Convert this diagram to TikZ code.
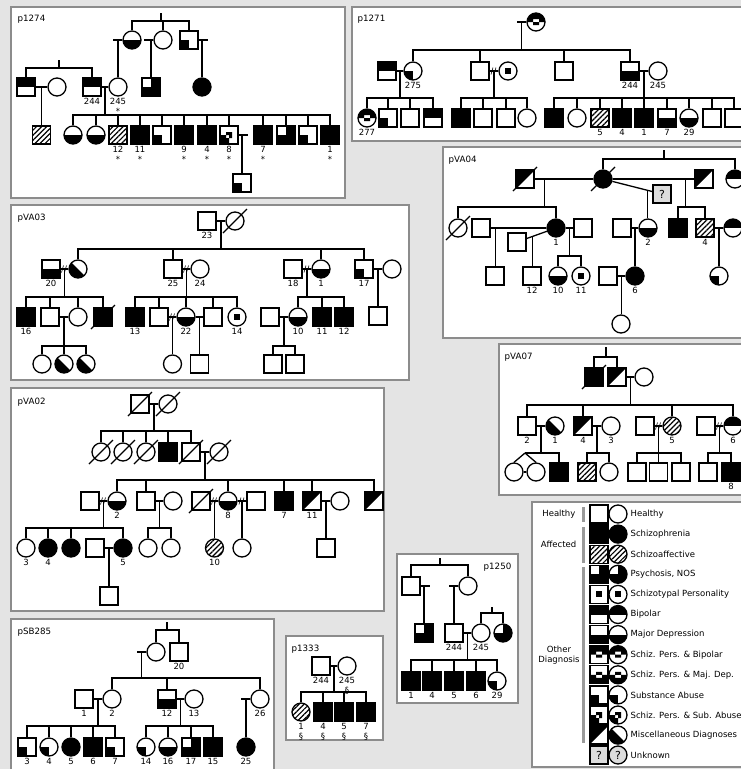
\documentclass[tikz,border=0pt]{standalone}
\usepackage{fontspec}
\setmainfont{DejaVu Sans}
\usetikzlibrary{patterns.meta}

\definecolor{bgcol}{HTML}{E4E4E4}
\definecolor{framecol}{HTML}{8C8C8C}
\definecolor{unkcol}{HTML}{DCDCDC}
\definecolor{barcol}{HTML}{9A9A9A}

% fill helpers
\newcommand{\ppic}[1]{\begin{scope}[shift={(path picture bounding box.center)}]#1\end{scope}}
\newcommand{\deceased}[1]{\draw (#1.center) ++(-12,12) -- ++(24,-24);}
\newcommand{\kids}[3]{\draw (#1) -- ++(0,#2) coordinate (bar);
  \foreach \c in {#3} {\draw (bar) -| (\c.north);}}
\newcommand{\down}[2]{\draw (#1) -- (#1 |- #2.north);}
\newcommand{\divorce}[1]{\draw[line width=.6pt] (#1) ++(-3,3.5) -- ++(2,-7) (#1) ++(0,3.5) -- ++(2,-7);}
\newcommand{\stubw}[2]{\draw (#1.west) -- ++(-9,0); \draw (#2.north) -- (#2 |- #1);}
\newcommand{\stube}[2]{\draw (#1.east) -- ++(9,0); \draw (#2.north) -- (#2 |- #1);}

\begin{document}
\begin{tikzpicture}[x=1pt, y=-1pt, line width=1.3pt,
  person/.style={draw, line width=1.3pt, minimum size=18pt, inner sep=0pt, fill=white, font=\fontsize{11}{11}\selectfont},
  male/.style={person, rectangle},
  female/.style={person, circle},
  hea/.style={},
  aff/.style={fill=black},
  sza/.style={pattern={Lines[angle=45, distance=3.6pt, line width=1.2pt]}},
  psy/.style={fill=black, path picture={\ppic{\fill[white] (-10pt,10pt) rectangle (0pt,0pt);}}},
  stp/.style={path picture={\ppic{\fill[black] (-3pt,-3pt) rectangle (3pt,3pt);}}},
  bip/.style={path picture={\ppic{\fill[black] (-10pt,0pt) rectangle (10pt,10pt);}}},
  mdp/.style={path picture={\ppic{\fill[black] (-10pt,-10pt) rectangle (10pt,0pt);}}},
  spb/.style={path picture={\ppic{\fill[black, even odd rule] (-10pt,0pt) rectangle (10pt,10pt) (-3pt,-3pt) rectangle (3pt,3pt);}}},
  spm/.style={path picture={\ppic{\fill[black, even odd rule] (-10pt,-10pt) rectangle (10pt,0pt) (-3pt,-3pt) rectangle (3pt,3pt);}}},
  sub/.style={path picture={\ppic{\fill[black] (-10pt,-10pt) rectangle (0pt,0pt);}}},
  sps/.style={path picture={\ppic{\fill[black, even odd rule] (-10pt,-10pt) rectangle (0pt,0pt) (-3pt,-3pt) rectangle (3pt,3pt);}}},
  miscm/.style={path picture={\ppic{\fill[black] (-9pt,-9pt) -- (-9pt,9pt) -- (9pt,9pt) -- cycle;}}},
  miscf/.style={path picture={\ppic{\fill[black] (-10pt,10pt) -- (-10pt,-10pt) -- (10pt,-10pt) -- cycle;}}},
  unk/.style={fill=unkcol},
  lab/.style={font=\fontsize{8.5}{9.5}\selectfont, inner sep=1pt, align=center},
  panel/.style={draw=framecol, line width=1.5pt, fill=white},
  title/.style={font=\fontsize{8.7}{10}\selectfont, anchor=north west, inner sep=0pt},
  gbar/.style={draw=barcol, line width=3pt}
]
\useasboundingbox (0,0) rectangle (741,769);
\clip (0,0) rectangle (741,769);
\fill[bgcol] (0,0) rectangle (741,769);

% ---------- p1274 ----------
\draw[panel] (11,7) rectangle (345,198);
\node[title] at (17,14) {p1274};
\coordinate (a0) at (161,13);
\node[female,mdp] (a1) at (132,40) {};
\node[female] (a2) at (163,40) {};
\node[male,sub] (a3) at (189,40) {};
\kids{a0}{8}{a1,a2,a3}
\coordinate (a4) at (59,60);
\node[male,bip] (a5) at (26,87) {};
\node[female] (a7) at (57,87) {};
\node[male,bip,label={[lab]below:244}] (a6) at (92,87) {};
\node[female,label={[lab]below:{245\\*}}] (a8) at (118,87) {};
\node[male,psy] (a9) at (151,87) {};
\node[female,aff] (a10) at (202,87) {};
\kids{a4}{8}{a5,a6}
\stubw{a1}{a8}
\stubw{a2}{a9}
\stube{a3}{a10}
\draw (a5) -- coordinate (m1) (a7);
\node[male,sza] (a11) at (41.5,135) {};
\down{m1}{a11}
\draw (a6) -- coordinate (m2) (a8);
\node[female,mdp] (a12) at (73,135) {};
\node[female,mdp] (a13) at (96,135) {};
\node[male,sza,label={[lab]below:{12\\*}}] (a14) at (118,135) {};
\node[male,aff,label={[lab]below:{11\\*}}] (a15) at (140,135) {};
\node[male,sub] (a16) at (162,135) {};
\node[male,aff,label={[lab]below:{9\\*}}] (a17) at (184,135) {};
\node[male,aff,label={[lab]below:{4\\*}}] (a18) at (207,135) {};
\node[male,sps,label={[lab]below:{8\\*}}] (a19) at (229,135) {};
\node[male,aff,label={[lab]below:{7\\*}}] (a20) at (263,135) {};
\node[male,psy] (a21) at (286,135) {};
\node[male,sub] (a22) at (308,135) {};
\node[male,aff,label={[lab]below:{1\\*}}] (a23) at (330,135) {};
\kids{m2}{28}{a12,a13,a14,a15,a16,a17,a18,a19,a20,a21,a22,a23}
\node[male,sub] (a24) at (242,183) {};
\stube{a19}{a24}

% ---------- p1271 ----------
\draw[panel] (352,7) rectangle (760,141);
\node[title] at (357,14) {p1271};
\node[female,spb] (b1) at (536,22) {};
\node[male,bip] (b2) at (387,71) {};
\node[female,sub,label={[lab]below:275}] (b3) at (413,71) {};
\node[male] (b4) at (480,71) {};
\node[female,stp] (b5) at (508,71) {};
\node[male] (b6) at (564,71) {};
\node[male,mdp,label={[lab]below:244}] (b7) at (630,71) {};
\node[female,label={[lab]below:245}] (b8) at (658,71) {};
\draw (b1.west) -- ++(-9,0);
\path (b1.west) ++(-5,0) coordinate (b0);
\kids{b0}{28}{b3,b4,b6,b7}
\draw (b2) -- coordinate (m3) (b3);
\node[female,spb,label={[lab]below:277}] (b9) at (367,118) {};
\node[male,sub] (b10) at (388,118) {};
\node[male] (b11) at (410,118) {};
\node[male,bip] (b12) at (433,118) {};
\kids{m3}{27}{b9,b10,b11,b12}
\draw (b4) -- coordinate (m4) (b5);
\divorce{m4}
\node[male,aff] (b13) at (461,118) {};
\node[male] (b14) at (483,118) {};
\node[male] (b15) at (506,118) {};
\node[female] (b16) at (527,118) {};
\kids{m4}{27}{b13,b14,b15,b16}
\draw (b7) -- coordinate (m5) (b8);
\node[male,aff] (b17) at (554,118) {};
\node[female] (b18) at (577,118) {};
\node[male,sza,label={[lab]below:5}] (b19) at (600,118) {};
\node[male,aff,label={[lab]below:4}] (b20) at (622,118) {};
\node[male,aff,label={[lab]below:1}] (b21) at (644,118) {};
\node[male,mdp,label={[lab]below:7}] (b22) at (667,118) {};
\node[female,mdp,label={[lab]below:29}] (b23) at (689,118) {};
\node[male] (b24) at (712,118) {};
\node[male] (b25) at (734,118) {};
\kids{m5}{27}{b17,b18,b19,b20,b21,b22,b23,b24,b25}

% ---------- pVA04 ----------
\draw[panel] (443,147) rectangle (760,338);
\node[title] at (448,155) {pVA04};
\coordinate (c0) at (664,150);
\node[male,miscm] (c1) at (525,179) {};
\node[female,aff] (c2) at (603,179) {};
\node[male,miscm] (c3) at (704,179) {};
\node[female,bip] (c4) at (735,179) {};
\node[male,unk] (c5) at (662,194) {?};
\kids{c0}{9}{c2,c4}
\node[female] (c6) at (458,228) {};
\node[male] (c7) at (481,228) {};
\node[female,aff,label={[lab]below:1}] (c8) at (556,228) {};
\node[male] (c9) at (517,242) {};
\node[male] (c10) at (583,228) {};
\node[male] (c14) at (622,228) {};
\node[female,mdp,label={[lab]below:2}] (c11) at (648,228) {};
\node[male,aff] (c12) at (678,228) {};
\node[male,sza,label={[lab]below:4}] (c13) at (705,228) {};
\node[female,bip] (c15) at (733,228) {};
\draw (c1) -- coordinate[pos=.17] (m6) (c2);
\kids{m6}{28}{c6,c8}
\draw (c2) -- coordinate[pos=.89] (m7) (c3);
\kids{m7}{28}{c12,c13}
\draw (c2) -- coordinate[pos=.88] (m8) (c5);
\down{m8}{c11}
\node[male] (c16) at (495,276) {};
\node[male,label={[lab]below:12}] (c17) at (532,276) {};
\node[female,mdp,label={[lab]below:10}] (c18) at (558,276) {};
\node[female,stp,label={[lab]below:11}] (c19) at (581,276) {};
\node[female,aff,label={[lab]below:6}] (c20) at (635,276) {};
\node[male] (c21) at (608,276) {};
\node[female,sub] (c23) at (719,276) {};
\node[female] (c22) at (621,324) {};
\draw (c7) -- coordinate[pos=.09] (m9) (c8);
\down{m9}{c16}
\draw (c9) -- coordinate[pos=.28] (m10) (c8);
\down{m10}{c17}
\draw (c8) -- coordinate (m11) (c10);
\kids{m11}{28}{c18,c19}
\draw (c14) -- coordinate (m12) (c11);
\down{m12}{c20}
\draw (c21) -- coordinate (m13) (c20);
\down{m13}{c22}
\draw (c13) -- coordinate (m14) (c15);
\down{m14}{c23}
\deceased{c1}
\deceased{c2}
\deceased{c6}

% ---------- pVA03 ----------
\draw[panel] (11,205) rectangle (409,380);
\node[title] at (17,213) {pVA03};
\node[male,label={[lab]below:23}] (d1) at (207,221) {};
\node[female] (d2) at (235,221) {};
\draw (d1) -- coordinate (m15) (d2);
\node[male,mdp,label={[lab]below:20}] (d3) at (51,269) {};
\node[female,miscf] (d4) at (78,269) {};
\node[male,label={[lab]below:25}] (d5) at (173,269) {};
\node[female,label={[lab]below:24}] (d6) at (200,269) {};
\node[male,label={[lab]below:18}] (d7) at (293,269) {};
\node[female,mdp,label={[lab]below:1}] (d8) at (321,269) {};
\node[male,sub,label={[lab]below:17}] (d9) at (364,269) {};
\node[female] (d10) at (392,269) {};
\kids{m15}{28}{d4,d5,d8,d9}
\draw (d3) -- coordinate (m16) (d4);
\divorce{m16}
\node[male,aff,label={[lab]below:16}] (d11) at (26,317) {};
\node[male] (d12) at (50,317) {};
\node[female] (d13) at (78,317) {};
\node[male,aff] (d14) at (103,317) {};
\kids{m16}{28}{d11,d12,d13,d14}
\draw (d12) -- coordinate (m17) (d13);
\node[female] (d15) at (42,364) {};
\node[female,miscf] (d16) at (64,364) {};
\node[female,miscf] (d17) at (86,364) {};
\kids{m17}{29}{d15,d16,d17}
\draw (d5) -- coordinate (m18) (d6);
\divorce{m18}
\node[male,aff,label={[lab]below:13}] (d18) at (135,317) {};
\node[male] (d19) at (159,317) {};
\node[female,mdp,label={[lab]below:22}] (d20) at (186,317) {};
\node[male] (d21) at (213,317) {};
\node[female,stp,label={[lab]below:14}] (d22) at (237,317) {};
\kids{m18}{28}{d18,d19,d20,d21,d22}
\draw (d19) -- coordinate (m19) (d20);
\divorce{m19}
\draw (d20) -- coordinate (m20) (d21);
\node[female] (d23) at (172.5,364) {};
\node[male] (d24) at (199.5,364) {};
\down{m19}{d23}
\down{m20}{d24}
\draw (d7) -- coordinate (m21) (d8);
\divorce{m21}
\node[female,mdp,label={[lab]below:10}] (d25) at (298,317) {};
\node[male,aff,label={[lab]below:11}] (d26) at (322,317) {};
\node[male,aff,label={[lab]below:12}] (d27) at (344,317) {};
\kids{m21}{28}{d25,d26,d27}
\node[male] (d28) at (270,317) {};
\draw (d28) -- coordinate (m22) (d25);
\node[male] (d29) at (273,364) {};
\node[male] (d30) at (295,364) {};
\kids{m22}{29}{d29,d30}
\draw (d9) -- coordinate (m23) (d10);
\node[male] (d31) at (378,316) {};
\down{m23}{d31}
\deceased{d2}
\deceased{d14}

% ---------- pVA07 ----------
\draw[panel] (499,344) rectangle (760,495);
\node[title] at (504,352) {pVA07};
\coordinate (e0) at (606,347);
\node[male,aff] (e1) at (594,377) {};
\deceased{e1}
\node[male,miscm] (e2) at (617,377) {};
\node[female] (e3) at (644,377) {};
\kids{e0}{10}{e1,e2}
\draw (e2) -- coordinate (m24) (e3);
\node[male,label={[lab]below:2}] (e4) at (527,426) {};
\node[female,miscf,label={[lab]below:1}] (e5) at (555,426) {};
\node[male,miscm,label={[lab]below:4}] (e6) at (583,426) {};
\node[female,label={[lab]below:3}] (e7) at (611,426) {};
\node[male] (e8) at (645,426) {};
\node[female,sza,label={[lab]below:5}] (e9) at (672,426) {};
\node[male] (e10) at (706,426) {};
\node[female,bip,label={[lab]below:6}] (e11) at (733,426) {};
\kids{m24}{28}{e4,e6,e9,e11}
\draw (e4) -- coordinate (m25) (e5);
\node[female] (e12) at (514,472) {};
\node[female] (e13) at (536,472) {};
\node[male,aff] (e14) at (559,472) {};
\coordinate (tw) at (525,453);
\kids{m25}{27}{e14}
\draw (bar) -- (tw);
\draw (tw) -- (e12.north) (tw) -- (e13.north);
\draw (e12) -- (e13);
\draw (e6) -- coordinate (m26) (e7);
\node[male,sza] (e15) at (587,472) {};
\node[female] (e16) at (609,472) {};
\kids{m26}{27}{e15,e16}
\draw (e8) -- coordinate (m27) (e9);
\divorce{m27}
\node[male] (e17) at (637,472) {};
\node[male] (e18) at (658.5,472) {};
\node[male] (e19) at (681,472) {};
\kids{m27}{27}{e17,e18,e19}
\draw (e10) -- coordinate (m28) (e11);
\divorce{m28}
\node[male] (e20) at (708,472) {};
\node[male,aff,label={[lab]below:8}] (e21) at (731,472) {};
\kids{m28}{27}{e20,e21}

% ---------- pVA02 ----------
\draw[panel] (11,388) rectangle (384,611);
\node[title] at (17,397) {pVA02};
\node[male] (f1) at (140,404) {};
\node[female] (f2) at (168,404) {};
\draw (f1) -- coordinate (m29) (f2);
\node[female] (f3) at (101,452) {};
\node[female] (f4) at (123,452) {};
\node[female] (f5) at (146,452) {};
\node[male,aff] (f6) at (168,452) {};
\node[male] (f7) at (191,452) {};
\node[female] (f8) at (219,452) {};
\kids{m29}{27}{f3,f4,f5,f6,f7}
\draw (f7) -- coordinate (m30) (f8);
\node[male] (f9) at (90,501) {};
\node[female,mdp,label={[lab]below:2}] (f10) at (117,501) {};
\node[male] (f11) at (146,501) {};
\node[female] (f12) at (173,501) {};
\node[male] (f13) at (201,501) {};
\node[female,mdp,label={[lab]below:8}] (f14) at (228,501) {};
\node[male] (f15) at (256,501) {};
\node[male,aff,label={[lab]below:7}] (f16) at (284,501) {};
\node[male,miscm,label={[lab]below:11}] (f17) at (312,501) {};
\node[female] (f18) at (340,501) {};
\node[male,miscm] (f19) at (374,501) {};
\kids{m30}{28}{f10,f11,f14,f16,f17,f19}
\draw (f9) -- coordinate (m31) (f10);
\divorce{m31}
\node[female,label={[lab]below:3}] (f20) at (26,548) {};
\node[female,aff,label={[lab]below:4}] (f21) at (48,548) {};
\node[female,aff] (f22) at (71,548) {};
\node[male] (f23) at (95,548) {};
\node[female,aff,label={[lab]below:5}] (f24) at (123,548) {};
\kids{m31}{27}{f20,f21,f22,f24}
\draw (f23) -- coordinate (m32) (f24);
\node[male] (f25) at (109,596) {};
\down{m32}{f25}
\draw (f11) -- coordinate (m33) (f12);
\node[female] (f26) at (148,548) {};
\node[female] (f27) at (171,548) {};
\kids{m33}{27}{f26,f27}
\draw (f13) -- coordinate (m34) (f14);
\divorce{m34}
\draw (f14) -- coordinate (m35) (f15);
\divorce{m35}
\node[female,sza,label={[lab]below:10}] (f28) at (214.5,548) {};
\node[female] (f29) at (242,548) {};
\down{m34}{f28}
\down{m35}{f29}
\draw (f17) -- coordinate (m36) (f18);
\node[male] (f30) at (326,548) {};
\down{m36}{f30}
\deceased{f1}
\deceased{f2}
\deceased{f3}
\deceased{f4}
\deceased{f5}
\deceased{f7}
\deceased{f8}
\deceased{f13}

% ---------- p1250 ----------
\draw[panel] (397,554) rectangle (518,703);
\node[title, anchor=north east] at (512,562) {p1250};
\coordinate (g0) at (440,558);
\node[male] (g1) at (411,586) {};
\node[female] (g2) at (468,586) {};
\kids{g0}{7}{g1,g2}
\node[male,psy] (g3) at (424,633) {};
\node[male,label={[lab]below:244}] (g4) at (454,633) {};
\stube{g1}{g3}
\stubw{g2}{g4}
\coordinate (g5) at (492,607);
\node[female,label={[lab]below:245}] (g6) at (481,633) {};
\node[female,psy] (g7) at (503,633) {};
\kids{g5}{6}{g6,g7}
\draw (g4) -- coordinate (m37) (g6);
\node[male,aff,label={[lab]below:1}] (g8) at (411,681) {};
\node[male,aff,label={[lab]below:4}] (g9) at (432,681) {};
\node[male,aff,label={[lab]below:5}] (g10) at (454,681) {};
\node[male,aff,label={[lab]below:6}] (g11) at (476,681) {};
\node[female,sub,label={[lab]below:29}] (g12) at (497,681) {};
\kids{m37}{27}{g8,g9,g10,g11,g12}

% ---------- pSB285 ----------
\draw[panel] (11,619) rectangle (274,775);
\node[title] at (17,627) {pSB285};
\coordinate (h0) at (167,622);
\node[female] (h1) at (156,652) {};
\node[male,label={[lab]below:20}] (h2) at (179,652) {};
\kids{h0}{8}{h1,h2}
\node[male,label={[lab]below:1}] (h3) at (84,699) {};
\node[female,label={[lab]below:2}] (h4) at (112,699) {};
\node[male,mdp,label={[lab]below:12}] (h5) at (167,699) {};
\node[female,label={[lab]below:13}] (h6) at (194,699) {};
\node[female,label={[lab]below:26}] (h7) at (260,699) {};
\draw (h1.west) -- ++(-9,0);
\path (h1.west) ++(-5,0) coordinate (h00);
\kids{h00}{26}{h4,h5,h7}
\draw (h3) -- coordinate (m38) (h4);
\node[male,sub,label={[lab]below:3}] (h8) at (27,747) {};
\node[female,sub,label={[lab]below:4}] (h9) at (49,747) {};
\node[female,aff,label={[lab]below:5}] (h10) at (71,747) {};
\node[male,aff,label={[lab]below:6}] (h11) at (93,747) {};
\node[male,sub,label={[lab]below:7}] (h12) at (115,747) {};
\kids{m38}{27}{h8,h9,h10,h11,h12}
\draw (h5) -- coordinate (m39) (h6);
\node[female,sub,label={[lab]below:14}] (h13) at (146,747) {};
\node[female,mdp,label={[lab]below:16}] (h14) at (168,747) {};
\node[male,psy,label={[lab]below:17}] (h15) at (191,747) {};
\node[male,aff,label={[lab]below:15}] (h16) at (213,747) {};
\kids{m39}{27}{h13,h14,h15,h16}
\node[female,aff,label={[lab]below:25}] (h17) at (246,747) {};
\stubw{h7}{h17}

% ---------- p1333 ----------
\draw[panel] (286,636) rectangle (383,740);
\node[title] at (291,644) {p1333};
\node[male,label={[lab]below:244}] (k1) at (321,666) {};
\node[female,label={[lab]below:{245\\§}}] (k2) at (347,666) {};
\draw (k1) -- coordinate (m40) (k2);
\node[female,sza,label={[lab]below:{1\\§}}] (k3) at (301,712) {};
\node[male,aff,label={[lab]below:{4\\§}}] (k4) at (323,712) {};
\node[male,aff,label={[lab]below:{5\\§}}] (k5) at (344,712) {};
\node[male,aff,label={[lab]below:{7\\§}}] (k6) at (366,712) {};
\kids{m40}{26}{k3,k4,k5,k6}

% ---------- legend ----------
\draw[panel] (532,502) rectangle (760,767);
\draw[gbar] (583,507) -- (583,522);
\draw[gbar] (583,527) -- (583,563);
\draw[gbar] (583,567) -- (583,743);
\node[lab, anchor=east] (lh) at (577,514) {Healthy};
\node[lab, anchor=east] (la) at (578,544) {Affected};
\node[lab] (lo) at (559,655) {Other\\Diagnosis};
\foreach \tm/\tf/\txt [count=\i from 0] in {hea/hea/Healthy, aff/aff/Schizophrenia,
    sza/sza/Schizoaffective, psy/psy/{Psychosis, NOS}, stp/stp/Schizotypal Personality,
    bip/bip/Bipolar, mdp/mdp/Major Depression, spb/spb/{Schiz. Pers. \& Bipolar},
    spm/spm/{Schiz. Pers. \& Maj. Dep.}, sub/sub/Substance Abuse,
    sps/sps/{Schiz. Pers. \& Sub. Abuse}, miscm/miscf/Miscellaneous Diagnoses}{
  \node[male,\tm] (lm\i) at (599,514+20.1*\i) {};
  \node[female,\tf] (lf\i) at (618,514+20.1*\i) {};
  \node[lab, anchor=west] (lt\i) at (629,514+20.1*\i) {\txt};
}
\node[male,unk] (lm12) at (599,755) {?};
\node[female,unk] (lf12) at (618,755) {?};
\node[lab, anchor=west] (lt12) at (629,755) {Unknown};
\end{tikzpicture}
\end{document}
